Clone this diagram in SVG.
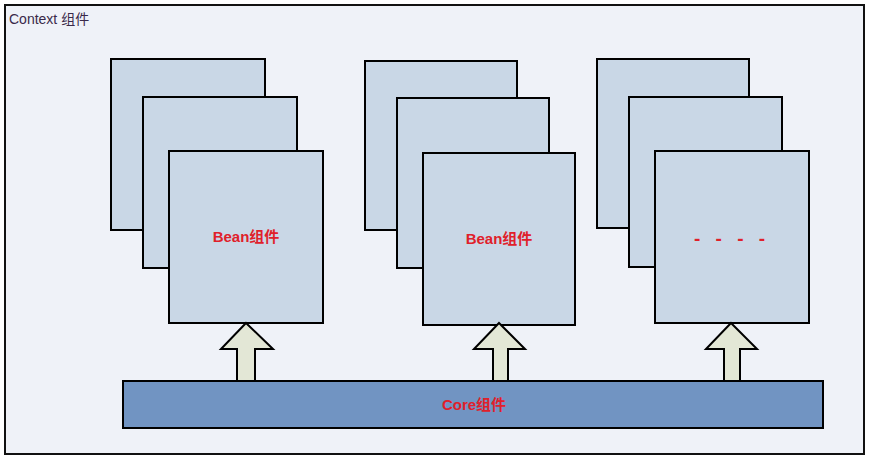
<svg xmlns="http://www.w3.org/2000/svg" width="870" height="460" viewBox="0 0 870 460">
<style>
.bg{fill:#eff2f8;stroke:#111;stroke-width:2}
.card{fill:#c9d7e6;stroke:#000;stroke-width:2}
.bar{fill:#7194c2;stroke:#000;stroke-width:2}
.arrow{fill:#e3e7d6;stroke:#000;stroke-width:2;stroke-linejoin:miter}
.lbl{font-family:"Liberation Sans","Noto Sans CJK SC",sans-serif;font-size:15px;fill:#e0202a;text-anchor:middle;font-weight:bold}
.title{font-family:"Liberation Sans","Noto Sans CJK SC",sans-serif;font-size:14px;fill:#3a2a4a}
</style>
<rect class="bg" x="5" y="5" width="859" height="449"/>
<text class="title" x="9" y="24">Context 组件</text>
<g id="stack1">
<rect class="card" x="111" y="59" width="154" height="171"/>
<rect class="card" x="143" y="97" width="154" height="171"/>
<rect class="card" x="169" y="151" width="154" height="172"/>
<text class="lbl" x="246" y="242">Bean组件</text>
</g>
<g id="stack2">
<rect class="card" x="365" y="61" width="152" height="169"/>
<rect class="card" x="397" y="98" width="152" height="170"/>
<rect class="card" x="423" y="153" width="152" height="172"/>
<text class="lbl" x="499" y="244">Bean组件</text>
</g>
<g id="stack3">
<rect class="card" x="597" y="59" width="152" height="169"/>
<rect class="card" x="629" y="97" width="153" height="170"/>
<rect class="card" x="655" y="151" width="154" height="172"/>
<text class="lbl" x="732" y="245" style="font-size:19px;letter-spacing:5px">- - - -</text>
</g>
<g id="core">
<rect class="bar" x="123" y="381" width="700" height="47"/>
<text class="lbl" x="474" y="410">Core组件</text>
</g>
<g id="connectors">
<path class="arrow" d="M246,323 L273,349 L255,349 L255,381 L237,381 L237,349 L221,349 Z"/>
<path class="arrow" d="M499,323 L525,349 L508,349 L508,381 L493,381 L493,349 L474,349 Z"/>
<path class="arrow" d="M731,323 L757,349 L740,349 L740,381 L724,381 L724,349 L706,349 Z"/>
</g>
</svg>
